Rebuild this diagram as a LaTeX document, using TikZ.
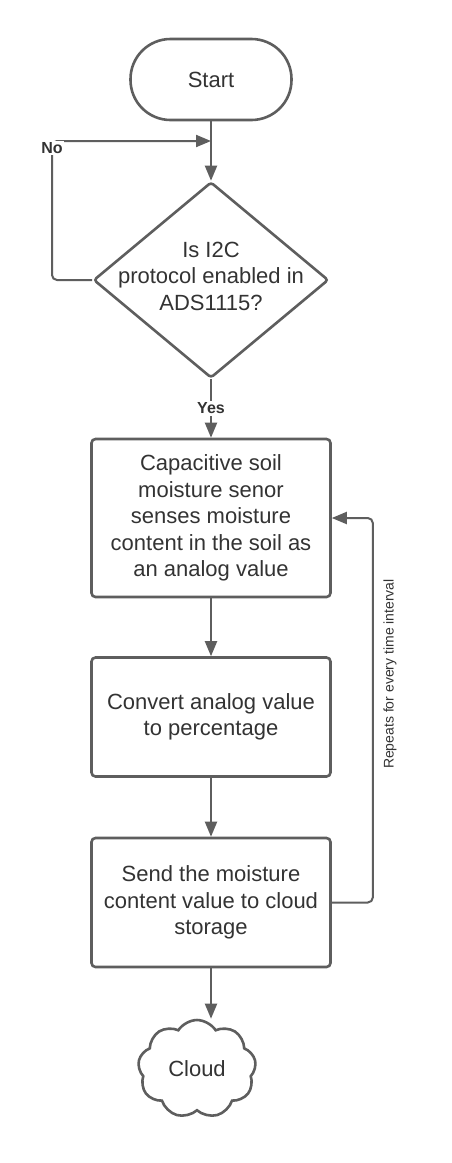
\documentclass[tikz,border=0pt]{standalone}
\usepackage{fontspec}
\setmainfont{Liberation Sans}
\usetikzlibrary{arrows.meta,shapes.geometric,shapes.symbols}
\definecolor{lc}{HTML}{5E5E5E}
\definecolor{tc}{HTML}{333333}
\begin{document}
\begin{tikzpicture}[x=1pt,y=-1pt,
  shapebox/.style={draw=lc, line width=2.6pt, rounded corners=4pt, minimum width=239pt, inner sep=0pt, fill=white},
  txt/.style={text=tc, font=\fontsize{22}{26.5}\selectfont, align=center},
  conn/.style={draw=lc, line width=2pt, -{Triangle[length=15pt,width=12pt]}},
  lab/.style={text=tc, font=\bfseries\fontsize{16}{18}\selectfont, fill=white, inner sep=1.5pt}]
\useasboundingbox (0,0) rectangle (451,1163);
\fill[white] (0,0) rectangle (451,1163);

\node[shapebox, txt, rounded corners=40pt, minimum width=161pt, minimum height=81pt] (start) at (211,79.5) {Start};

\node[draw=lc, line width=2.6pt, diamond, rounded corners=3pt, minimum width=235pt, minimum height=196pt, inner sep=0pt] (q) at (211,280) {};
\node[txt] (qtext) at (211,276) {Is I2C\\protocol enabled in\\ADS1115?};

\node[shapebox, txt, minimum height=158pt] (box1) at (211,518) {Capacitive soil\\moisture senor\\senses moisture\\content in the soil as\\an analog value};
\node[shapebox, txt, minimum height=119pt] (box2) at (211,717) {Convert analog value\\to percentage};
\node[shapebox, txt, minimum height=129pt] (box3) at (211,902.5) {Send the moisture\\content value to cloud\\storage};

\node[cloud, draw=lc, line width=2.6pt, cloud puffs=9, cloud puff arc=115, aspect=1.15, minimum width=118pt, minimum height=98pt, inner sep=0pt, txt] (cloud) at (197,1069) {Cloud};

\coordinate (nc) at (52,141);
\coordinate (na) at (211,141);

\draw[conn] (start.south) -- (q.north);
\draw[conn, rounded corners=5pt] (q.west) -| (nc) -- (na);
\node[lab] (no) at (52,148) {No};
\draw[conn] (q.south) -- node[lab] (yes) {Yes} (box1.north);
\draw[conn] (box1.south) -- (box2.north);
\draw[conn] (box2.south) -- (box3.north);
\draw[conn] (box3.south) -- (box3.south |- cloud.north);
\draw[conn, rounded corners=5pt] (box3.east) -- ++(41,0) |- (box1.east);
\node[text=tc, font=\fontsize{14}{16}\selectfont, rotate=90] (rep) at (390,674) {Repeats for every time interval};
\end{tikzpicture}
\end{document}
